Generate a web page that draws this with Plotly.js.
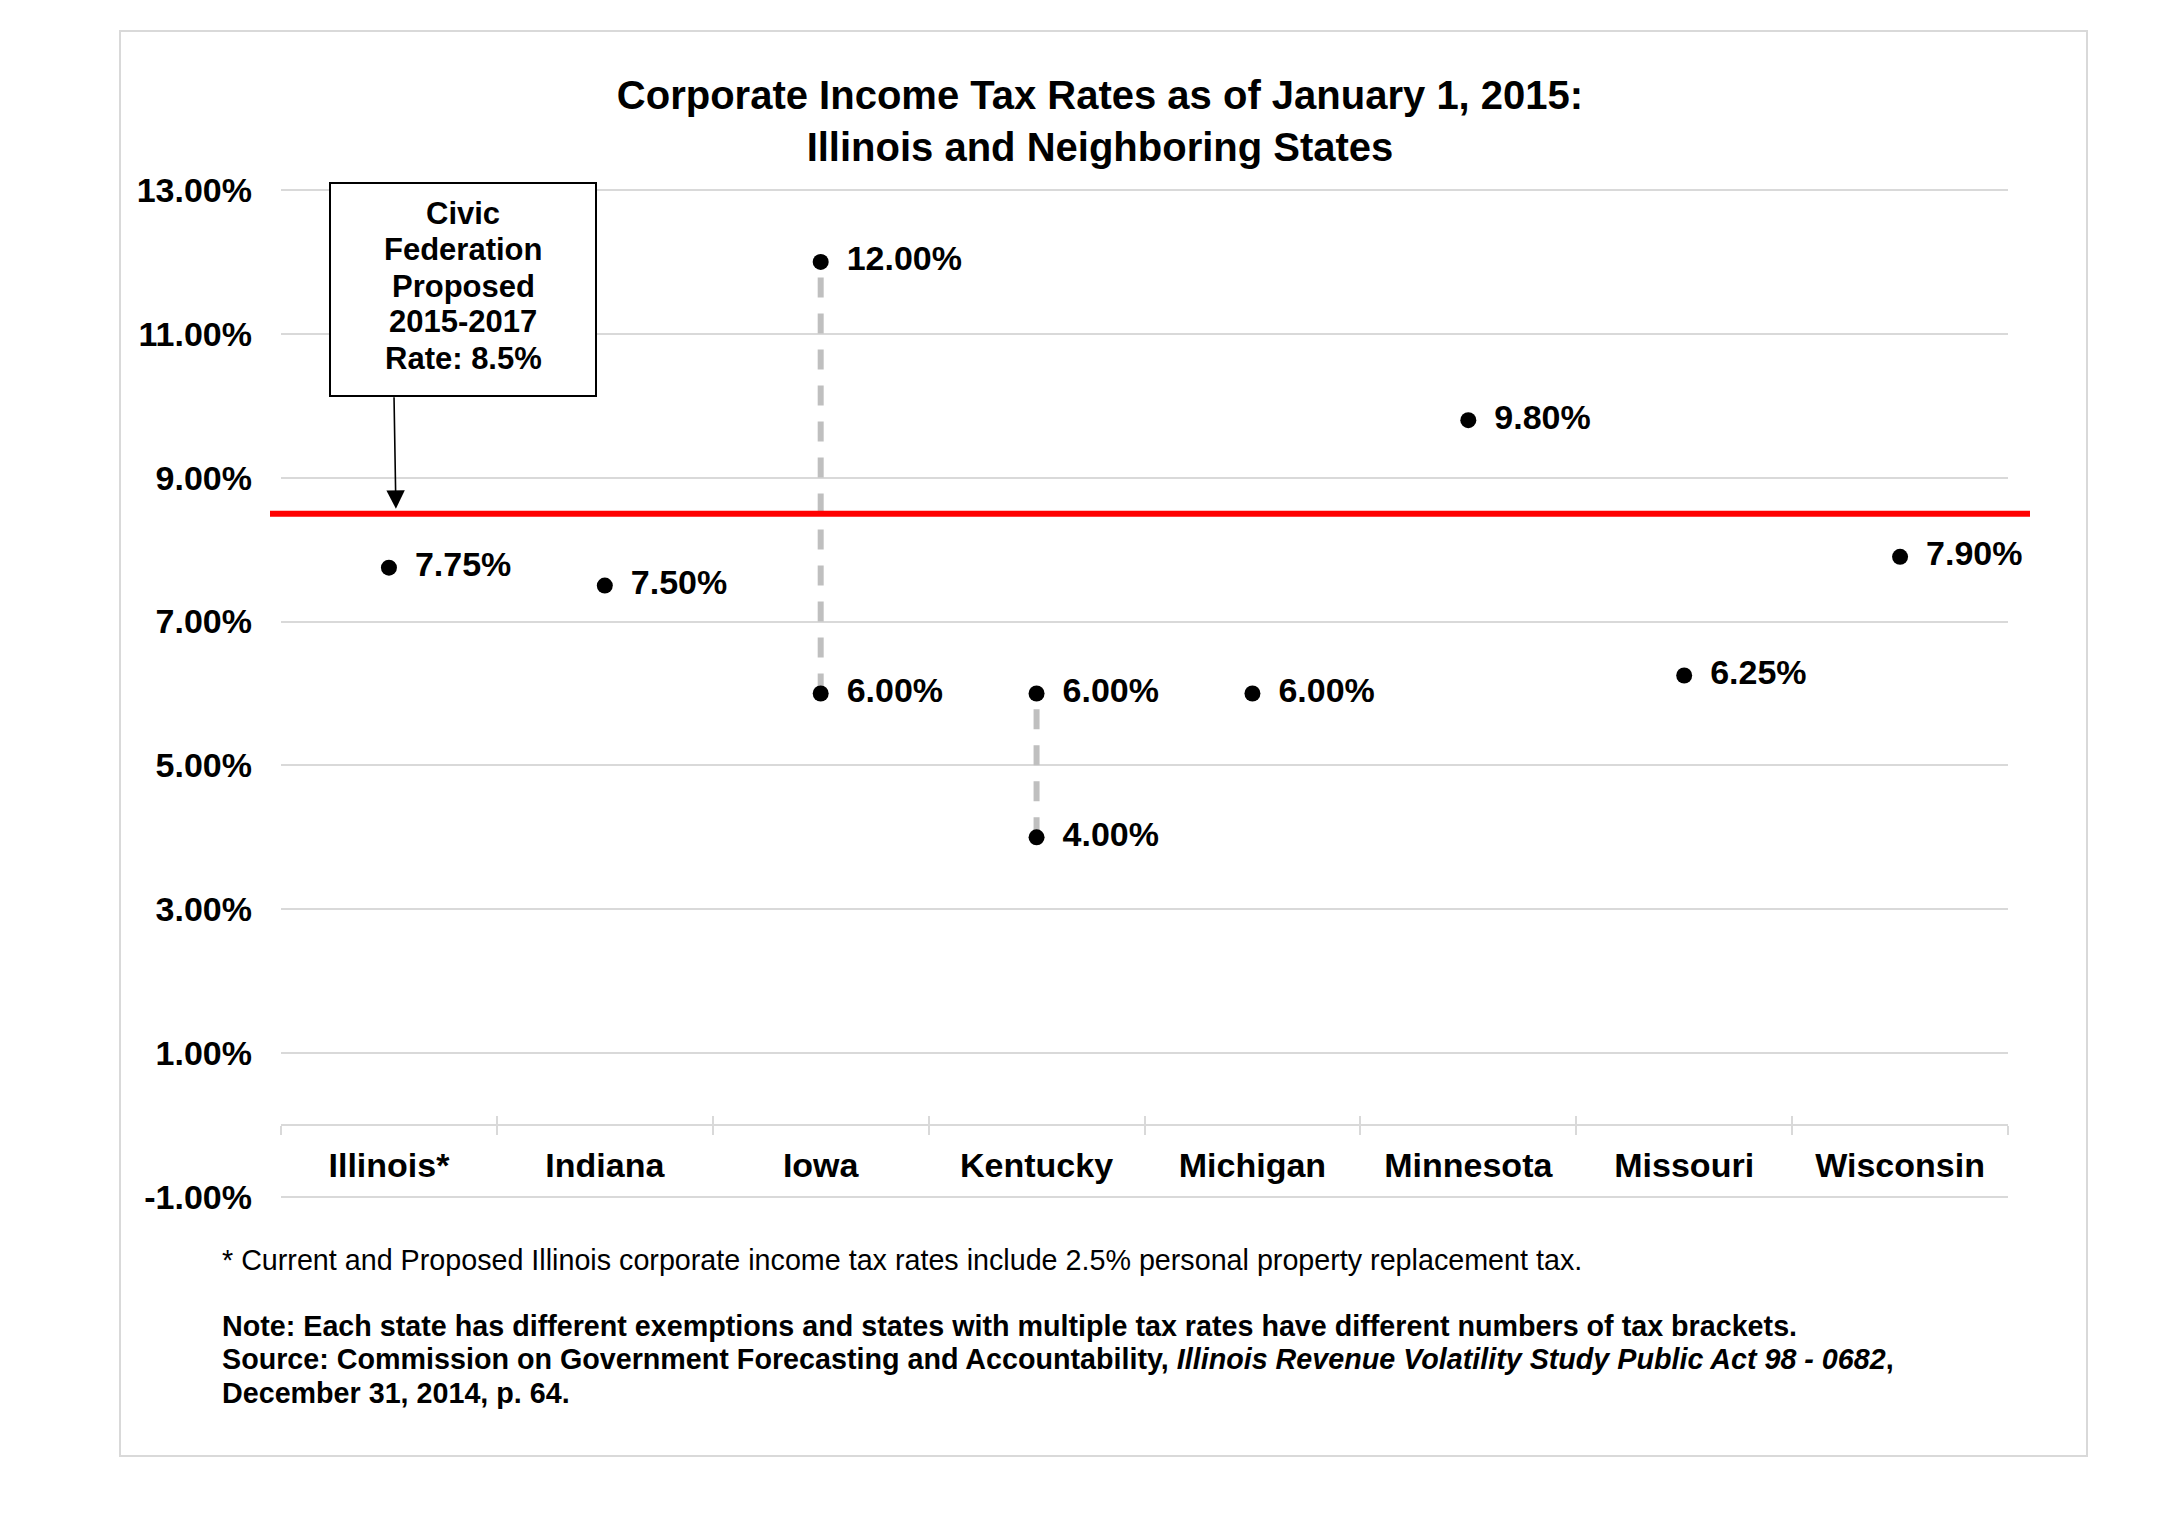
<!DOCTYPE html>
<html>
<head>
<meta charset="utf-8">
<script src="https://cdn.plot.ly/plotly-3.0.1.min.js"></script>
<style>html,body{margin:0;padding:0;background:#fff;}#chart{width:2172px;height:1533px;}</style>
</head>
<body>
<div id="chart"></div>
<script>
// ---- data ----
const states = ["Illinois*", "Indiana", "Iowa", "Kentucky", "Michigan", "Minnesota", "Missouri", "Wisconsin"];
const lowRate = [7.75, 7.50, 6.00, 4.00, 6.00, 9.80, 6.25, 7.90];
const highRate = [null, null, 12.00, 6.00, null, null, null, null];
const proposedRate = 8.5;
const yTicks = [-1, 1, 3, 5, 7, 9, 11, 13];
const yTickText = ["-1.00%", "1.00%", "3.00%", "5.00%", "7.00%", "9.00%", "11.00%", "13.00%"];
const boxText = ["Civic", "Federation", "Proposed", "2015-2017", "Rate: 8.5%"];
const titleLines = ["Corporate Income Tax Rates as of January 1, 2015:", "Illinois and Neighboring States"];
const footnote = "* Current and Proposed Illinois corporate income tax rates include 2.5% personal property replacement tax.";
const noteLines = [
  "Note: Each state has different exemptions and states with multiple tax rates have different numbers of tax brackets.",
  "Source: Commission on Government Forecasting and Accountability, <i>Illinois Revenue Volatility Study Public Act 98 - 0682</i>,",
  "December 31, 2014, p. 64."
];

// ---- geometry helpers (page pixels -> paper fractions of the plot area) ----
const ML = 281, MR = 164, MT = 188, MB = 334, W = 2172, H = 1533;
const PW = W - ML - MR, PH = H - MT - MB;
const px = v => (v - ML) / PW;
const py = v => (H - MB - v) / PH;
const Y0 = -1.028, Y1 = 13.028;

// ---- build traces ----
const FONT = "Liberation Sans, Arial, Helvetica, sans-serif";
const rangeX = [], rangeY = [];
states.forEach((s, i) => {
  if (highRate[i] !== null) { rangeX.push(s, s, null); rangeY.push(lowRate[i], highRate[i], null); }
});
const ptX = [], ptY = [], ptT = [];
states.forEach((s, i) => {
  ptX.push(s); ptY.push(lowRate[i]); ptT.push(lowRate[i].toFixed(2) + "%");
  if (highRate[i] !== null) { ptX.push(s); ptY.push(highRate[i]); ptT.push(highRate[i].toFixed(2) + "%"); }
});

const traces = [
  {x: rangeX, y: rangeY, mode: "lines", type: "scatter", line: {color: "#bfbfbf", width: 6, dash: "20px,16px"}, hoverinfo: "skip", showlegend: false, connectgaps: false},
  {x: ptX, y: ptY, mode: "markers", type: "scatter", marker: {color: "#000", size: 16}, showlegend: false, hoverinfo: "skip"},
  {x: ptX, y: ptY, text: ptT, mode: "markers+text", type: "scatter", textposition: "middle right",
   marker: {color: "rgba(0,0,0,0)", size: 40}, textfont: {family: FONT, size: 34, color: "#000", weight: "bold"}, showlegend: false, hoverinfo: "skip", cliponaxis: false},
  {x: states, y: states.map(() => null), xaxis: "x2", mode: "markers", type: "scatter", showlegend: false, hoverinfo: "skip"}
];

const y0paper = (0 - Y0) / (Y1 - Y0);
const annotations = [];
boxText.forEach((t, i) => {
  annotations.push({xref: "paper", yref: "paper", x: px(463), y: py([213, 249, 286, 322, 358][i]), xanchor: "center", yanchor: "middle",
    text: t, showarrow: false, font: {family: FONT, size: 31, color: "#000", weight: "bold"}});
});
annotations.push({xref: "paper", yref: "y", x: px(396), y: proposedRate, text: "", showarrow: true, arrowhead: 2, arrowsize: 2.3, arrowwidth: 1.6,
  arrowcolor: "#000", ax: -2, ay: -118, standoff: 5});
annotations.push({xref: "paper", yref: "paper", x: px(220), y: py(1260), xanchor: "left", yanchor: "middle", showarrow: false,
  text: footnote, align: "left", font: {family: FONT, size: 28.7, color: "#000"}});
noteLines.forEach((t, i) => {
  annotations.push({xref: "paper", yref: "paper", x: px(220), y: py([1326, 1359, 1393][i]), xanchor: "left", yanchor: "middle", showarrow: false,
    text: t, align: "left", font: {family: FONT, size: 28.7, color: "#000", weight: "bold"}});
});

const layout = {
  width: W, height: H,
  paper_bgcolor: "#fff", plot_bgcolor: "#fff",
  margin: {l: ML, r: MR, t: MT, b: MB, pad: 0},
  showlegend: false,
  title: {text: titleLines.join("<br>"), x: 1100 / W, xanchor: "center", y: 1 - 108.5 / H, yanchor: "middle", yref: "container",
          font: {family: FONT, size: 40, color: "#000", weight: "bold"}},
  xaxis: {type: "category", categoryorder: "array", categoryarray: states, range: [-0.5, 7.5],
          anchor: "free", position: y0paper, showline: true, linecolor: "#d9d9d9", linewidth: 2,
          showgrid: false, zeroline: false, ticks: "outside", tickson: "boundaries", ticklen: 9, tickwidth: 2, tickcolor: "#d9d9d9",
          ticklabelstandoff: 10, tickfont: {family: FONT, size: 34, color: "#000", weight: "bold"}, fixedrange: true},
  xaxis2: {type: "category", categoryorder: "array", categoryarray: states, range: [-0.5, 7.5], overlaying: "x",
           anchor: "free", position: y0paper, showline: false, showgrid: false, zeroline: false,
           ticks: "inside", tickson: "boundaries", ticklen: 9, tickwidth: 2, tickcolor: "#d9d9d9", showticklabels: false},
  yaxis: {range: [Y0, Y1], tickmode: "array", tickvals: yTicks, ticktext: yTickText, showgrid: true, gridcolor: "#d9d9d9", gridwidth: 2,
          zeroline: false, showline: false, ticks: "", ticklabelstandoff: 28,
          tickfont: {family: FONT, size: 34, color: "#000", weight: "bold"}, fixedrange: true},
  shapes: [
    {type: "rect", xref: "paper", yref: "paper", x0: px(120), x1: px(2087), y0: py(1456), y1: py(31),
     line: {color: "#d9d9d9", width: 2}, fillcolor: "rgba(0,0,0,0)", layer: "below"},
    {type: "line", xref: "paper", yref: "y", x0: px(270), x1: px(2030), y0: proposedRate, y1: proposedRate,
     line: {color: "#ff0000", width: 6}, layer: "above"},
    {type: "rect", xref: "paper", yref: "paper", x0: px(330), x1: px(596), y0: py(396), y1: py(183),
     line: {color: "#000", width: 2}, fillcolor: "#fff", layer: "above"}
  ],
  annotations: annotations
};

Plotly.newPlot("chart", traces, layout, {staticPlot: true, displayModeBar: false});
</script>
</body>
</html>
